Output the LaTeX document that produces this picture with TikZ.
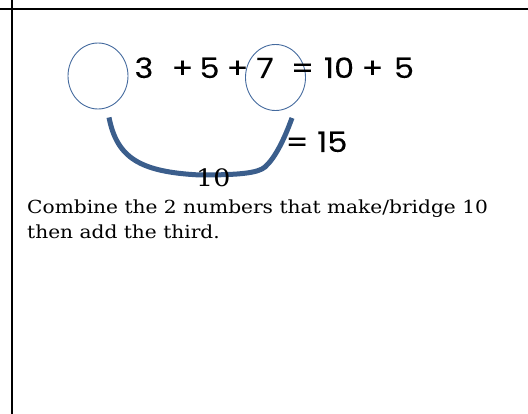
\documentclass[tikz,border=0pt]{standalone}
\usepackage{fontspec}
\usepackage{tikz}
\usetikzlibrary{shapes, positioning, calc}
\newfontfamily\sumfont[FakeBold=0.2, FakeStretch=1.14]{Poppins}
\newfontfamily\notefont[FakeStretch=1.12]{DejaVu Serif}
\definecolor{ringblue}{RGB}{68, 106, 158}
\definecolor{bridgeblue}{RGB}{59, 94, 140}

\begin{document}
\begin{tikzpicture}[x=1pt, y=-1pt,
    ring/.style={draw=ringblue, line width=0.9pt, ellipse, inner sep=0pt,
        minimum width=60pt, minimum height=66pt},
    sumtxt/.style={anchor=base, inner sep=0pt,
        font=\sumfont\fontsize{28}{30}\selectfont},
    notetxt/.style={anchor=base west, inner sep=0pt,
        font=\notefont\fontsize{18}{25}\selectfont}
]
    \useasboundingbox (0,0) rectangle (528,414);
    % cell rules
    \draw[line width=2pt] (0,9) -- (528,9);
    \draw[line width=2pt] (12,0) -- (12,414);

    % the two rings
    \node[ring] (lring) at (98,76) {};
    \node[ring] (rring) at (275.5,77.5) {};

    % bridge under the rings
    \draw[bridgeblue, line width=5pt] ([shift={(11,8)}]lring.south)
        .. controls (117,158) and (140,172) .. (200,175)
        .. controls (240,175) and (258,173) .. (265,167)
        .. controls (275,158) and (284,140) .. ([shift={(16.5,7)}]rring.south);

    % the sum
    \node[sumtxt] (n3) at (144,78) {3};
    \node[sumtxt] (p1) at (182.5,78) {+};
    \node[sumtxt] (n5) at (209.5,78) {5};
    \node[sumtxt] (p2) at (237.5,78) {+};
    \node[sumtxt] (n7) at (265,78) {7};
    \node[sumtxt] (eq) at (302.5,78) {=};
    \node[sumtxt] (n10) at (339,78) {10};
    \node[sumtxt] (p3) at (372.5,78) {+};
    \node[sumtxt] (n5b) at (404,78) {5};
    \node[sumtxt] (res) at (316.5,152) {= 15};
    \node[notetxt, font=\notefont\fontsize{24}{30}\selectfont] (ten) at (196,187) {10};

    % note
    \node[notetxt] (note1) at (27,214) {Combine the 2 numbers that make/bridge 10};
    \node[notetxt] (note2) at (27,239) {then add the third.};
\end{tikzpicture}
\end{document}
